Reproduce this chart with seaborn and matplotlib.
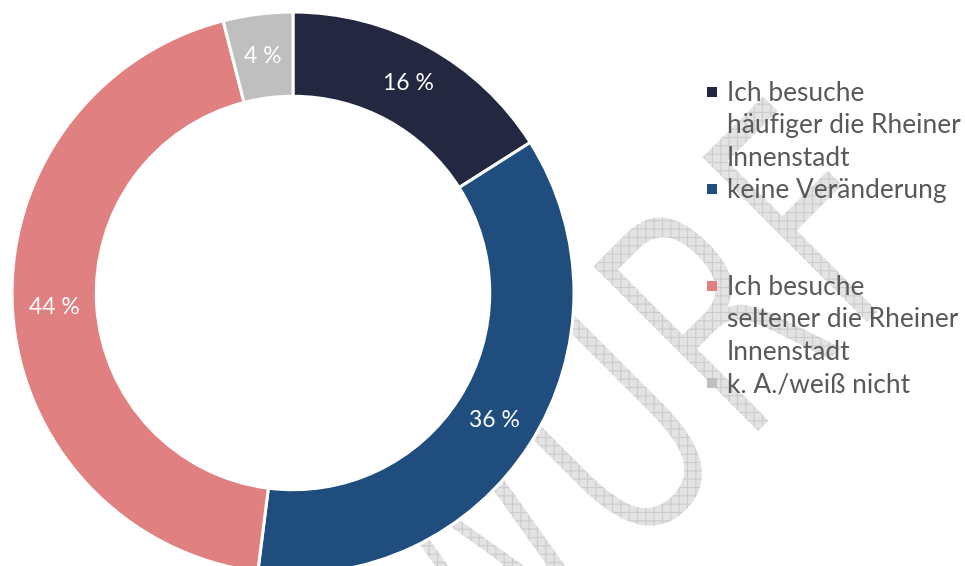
import matplotlib.pyplot as plt
import seaborn as sns
from matplotlib.font_manager import FontProperties
from matplotlib.lines import Line2D
from matplotlib.patches import PathPatch
from matplotlib.textpath import TextPath
from matplotlib.transforms import Affine2D

categories = [
    "Ich besuche\nhäufiger die Rheiner\nInnenstadt",
    "keine Veränderung",
    "Ich besuche\nseltener die Rheiner\nInnenstadt",
    "k. A./weiß nicht",
]
shares = [16, 36, 44, 4]
colors = ["#232840", "#1f4e7e", "#e08080", "#bfbfbf"]

sns.set_theme(style="white")
plt.rcParams["font.family"] = ["Lato", "DejaVu Sans"]
plt.rcParams["hatch.linewidth"] = 0.8

fig = plt.figure(figsize=(9.65, 5.66), dpi=100)

# watermark in the background (hatched letters, thinned with a white outline)
wm = TextPath((0, 0), "ENTWURF", size=1, prop=FontProperties(family="DejaVu Sans"))
wm_tf = Affine2D().scale(222, 329).rotate_deg(45).translate(160, -468)
fig.add_artist(PathPatch(wm, transform=wm_tf, facecolor="#e3e3e3", edgecolor="#cccccc",
                         hatch="++", lw=0, zorder=-5))
fig.add_artist(PathPatch(wm, transform=wm_tf, facecolor="none", edgecolor="white",
                         lw=5, zorder=-4))

ax = fig.add_axes([12 / 965, -8 / 566, 562 / 965, 562 / 566])
ax.set_facecolor("none")
wedges, texts, autotexts = ax.pie(
    shares,
    colors=colors,
    startangle=90,
    counterclock=False,
    radius=1,
    autopct=lambda p: f"{p:.0f} %",
    pctdistance=0.85,
    wedgeprops=dict(width=0.3, edgecolor="white", linewidth=2.2),
    textprops=dict(color="white", fontsize=16.5),
)
ax.set_xlim(-1, 1)
ax.set_ylim(-1, 1)

# one legend row per text line, marker only on the first line of each entry
rows, row_labels = [], []
for i, (label, c) in enumerate(zip(categories, colors)):
    for j, line in enumerate(label.split("\n")):
        if j == 0:
            rows.append(Line2D([], [], linestyle="none", marker="s", markersize=7.5,
                               markerfacecolor=c, markeredgewidth=0))
        else:
            rows.append(Line2D([], [], linestyle="none"))
        row_labels.append(line)
    if i == 1:
        for _ in range(2):
            rows.append(Line2D([], [], linestyle="none"))
            row_labels.append(" ")

leg = fig.legend(
    rows,
    row_labels,
    loc="upper left",
    bbox_to_anchor=(705 / 965, 1 - 81 / 566),
    frameon=False,
    fontsize=18.9,
    handlelength=0.5,
    handletextpad=0.33,
    labelspacing=0.28,
    borderpad=0,
    borderaxespad=0,
)
for t in leg.get_texts():
    t.set_color("#595959")

fig.savefig("out.png", dpi=100)
